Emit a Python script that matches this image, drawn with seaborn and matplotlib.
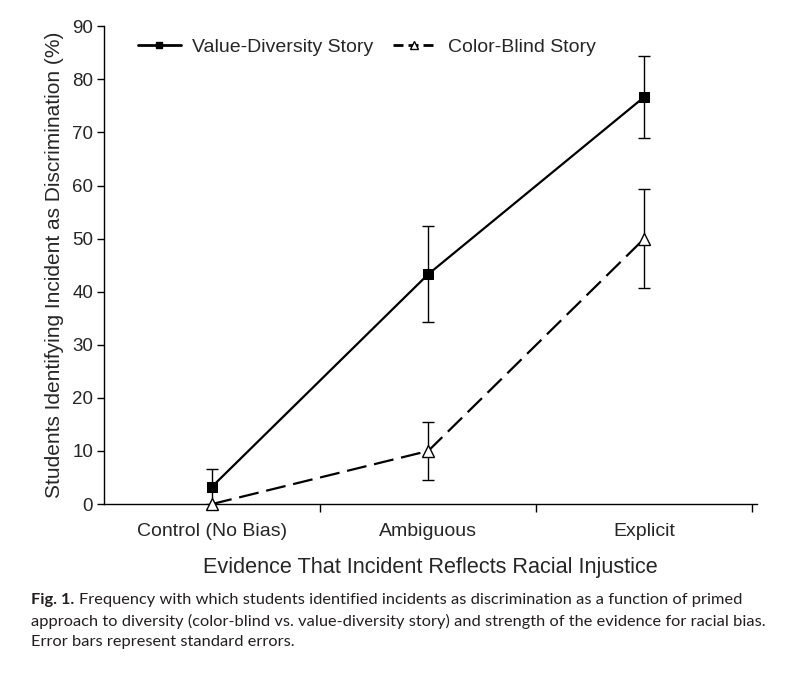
import pandas as pd
import seaborn as sns
import matplotlib.pyplot as plt
from matplotlib.lines import Line2D

# evidence conditions and story primes
conditions = ["Control (No Bias)", "Ambiguous", "Explicit"]
value_diversity = [3.3, 43.3, 76.7]
value_diversity_se = [3.3, 9.1, 7.8]
color_blind = [0.0, 10.0, 50.0]
color_blind_se = [0.0, 5.45, 9.3]
yticks = [0, 10, 20, 30, 40, 50, 60, 70, 80, 90]

sns.set_style("ticks")
plt.rcParams['font.family'] = ['Liberation Sans', 'DejaVu Sans']

df = pd.DataFrame({
    "pos": list(range(len(conditions))) * 2,
    "pct": value_diversity + color_blind,
    "se": value_diversity_se + color_blind_se,
    "story": ["Value-Diversity Story"] * 3 + ["Color-Blind Story"] * 3,
})

fig = plt.figure(figsize=(7.89, 6.75), dpi=100)
ax = fig.add_axes([0.132, 0.2533, 0.827, 0.7077])

vd = df[df.story == "Value-Diversity Story"]
cb = df[df.story == "Color-Blind Story"]

# error bars first so markers sit on top
for sub in (vd, cb):
    err = sub[sub.se > 0]
    ax.errorbar(err.pos, err.pct, yerr=err.se, fmt="none", ecolor="black",
                elinewidth=1, capsize=4, capthick=1, zorder=2)

sns.lineplot(data=vd, x="pos", y="pct", ax=ax, color="black", lw=1.6,
             marker="s", markersize=7, markerfacecolor="black",
             markeredgecolor="black", legend=False,
             clip_on=False, zorder=3)
sns.lineplot(data=cb, x="pos", y="pct", ax=ax, color="black", lw=1.6,
             marker="^", markersize=8, markerfacecolor="white",
             markeredgecolor="black", markeredgewidth=1,
             dashes=(9, 3.5), legend=False,
             clip_on=False, zorder=3)

ax.set_xlim(-0.5, 2.52)
ax.set_ylim(0, 90)
ax.set_yticks(yticks)
ax.set_xticks(range(len(conditions)))
ax.set_xticklabels(conditions, fontsize=14)
ax.set_xticks([0.5, 1.5, 2.5], minor=True)
ax.tick_params(axis="x", which="major", length=0, pad=14)
ax.tick_params(axis="x", which="minor", length=6, width=1, color="black", direction="out")
ax.tick_params(axis="y", length=5, width=1, color="black", labelsize=13.5, pad=3)
for s in ("left", "bottom"):
    ax.spines[s].set_linewidth(1)
    ax.spines[s].set_color("black")
sns.despine(ax=ax)

ax.set_ylabel("Students Identifying Incident as Discrimination (%)", fontsize=15, labelpad=6)
ax.set_xlabel("Evidence That Incident Reflects Racial Injustice", fontsize=15.6, labelpad=12)

handles = [
    Line2D([], [], color="black", lw=2, marker="s", markersize=5),
    Line2D([], [], color="black", lw=2, marker="^", markersize=6,
           markerfacecolor="white", markeredgewidth=1, dashes=(3.6, 1.8)),
]
ax.legend(handles, ["Value-Diversity Story", "Color-Blind Story"],
          loc="upper left", bbox_to_anchor=(0.025, 1.012), ncol=2, frameon=False,
          fontsize=14, handlelength=2.2, columnspacing=1.0, handletextpad=0.6)

# caption
cap_font = ['Lato', 'DejaVu Sans']
cap_size = 11.75
fig.canvas.draw()
y1 = 1 - 600 / 675
t = fig.text(31 / 789, y1, "Fig. 1.", fontsize=cap_size, fontweight="bold",
             family=cap_font, va="center", color="#231f20")
bb = t.get_window_extent(fig.canvas.get_renderer())
fig.text(bb.x1 / 789 + 0.006, y1,
         "Frequency with which students identified incidents as discrimination as a function of primed",
         fontsize=cap_size, family=cap_font, va="center", color="#231f20")
fig.text(31 / 789, 1 - 621 / 675,
         "approach to diversity (color-blind vs. value-diversity story) and strength of the evidence for racial bias.",
         fontsize=cap_size, family=cap_font, va="center", color="#231f20")
fig.text(31 / 789, 1 - 642 / 675, "Error bars represent standard errors.",
         fontsize=cap_size, family=cap_font, va="center", color="#231f20")

fig.savefig("out.png", dpi=100)
